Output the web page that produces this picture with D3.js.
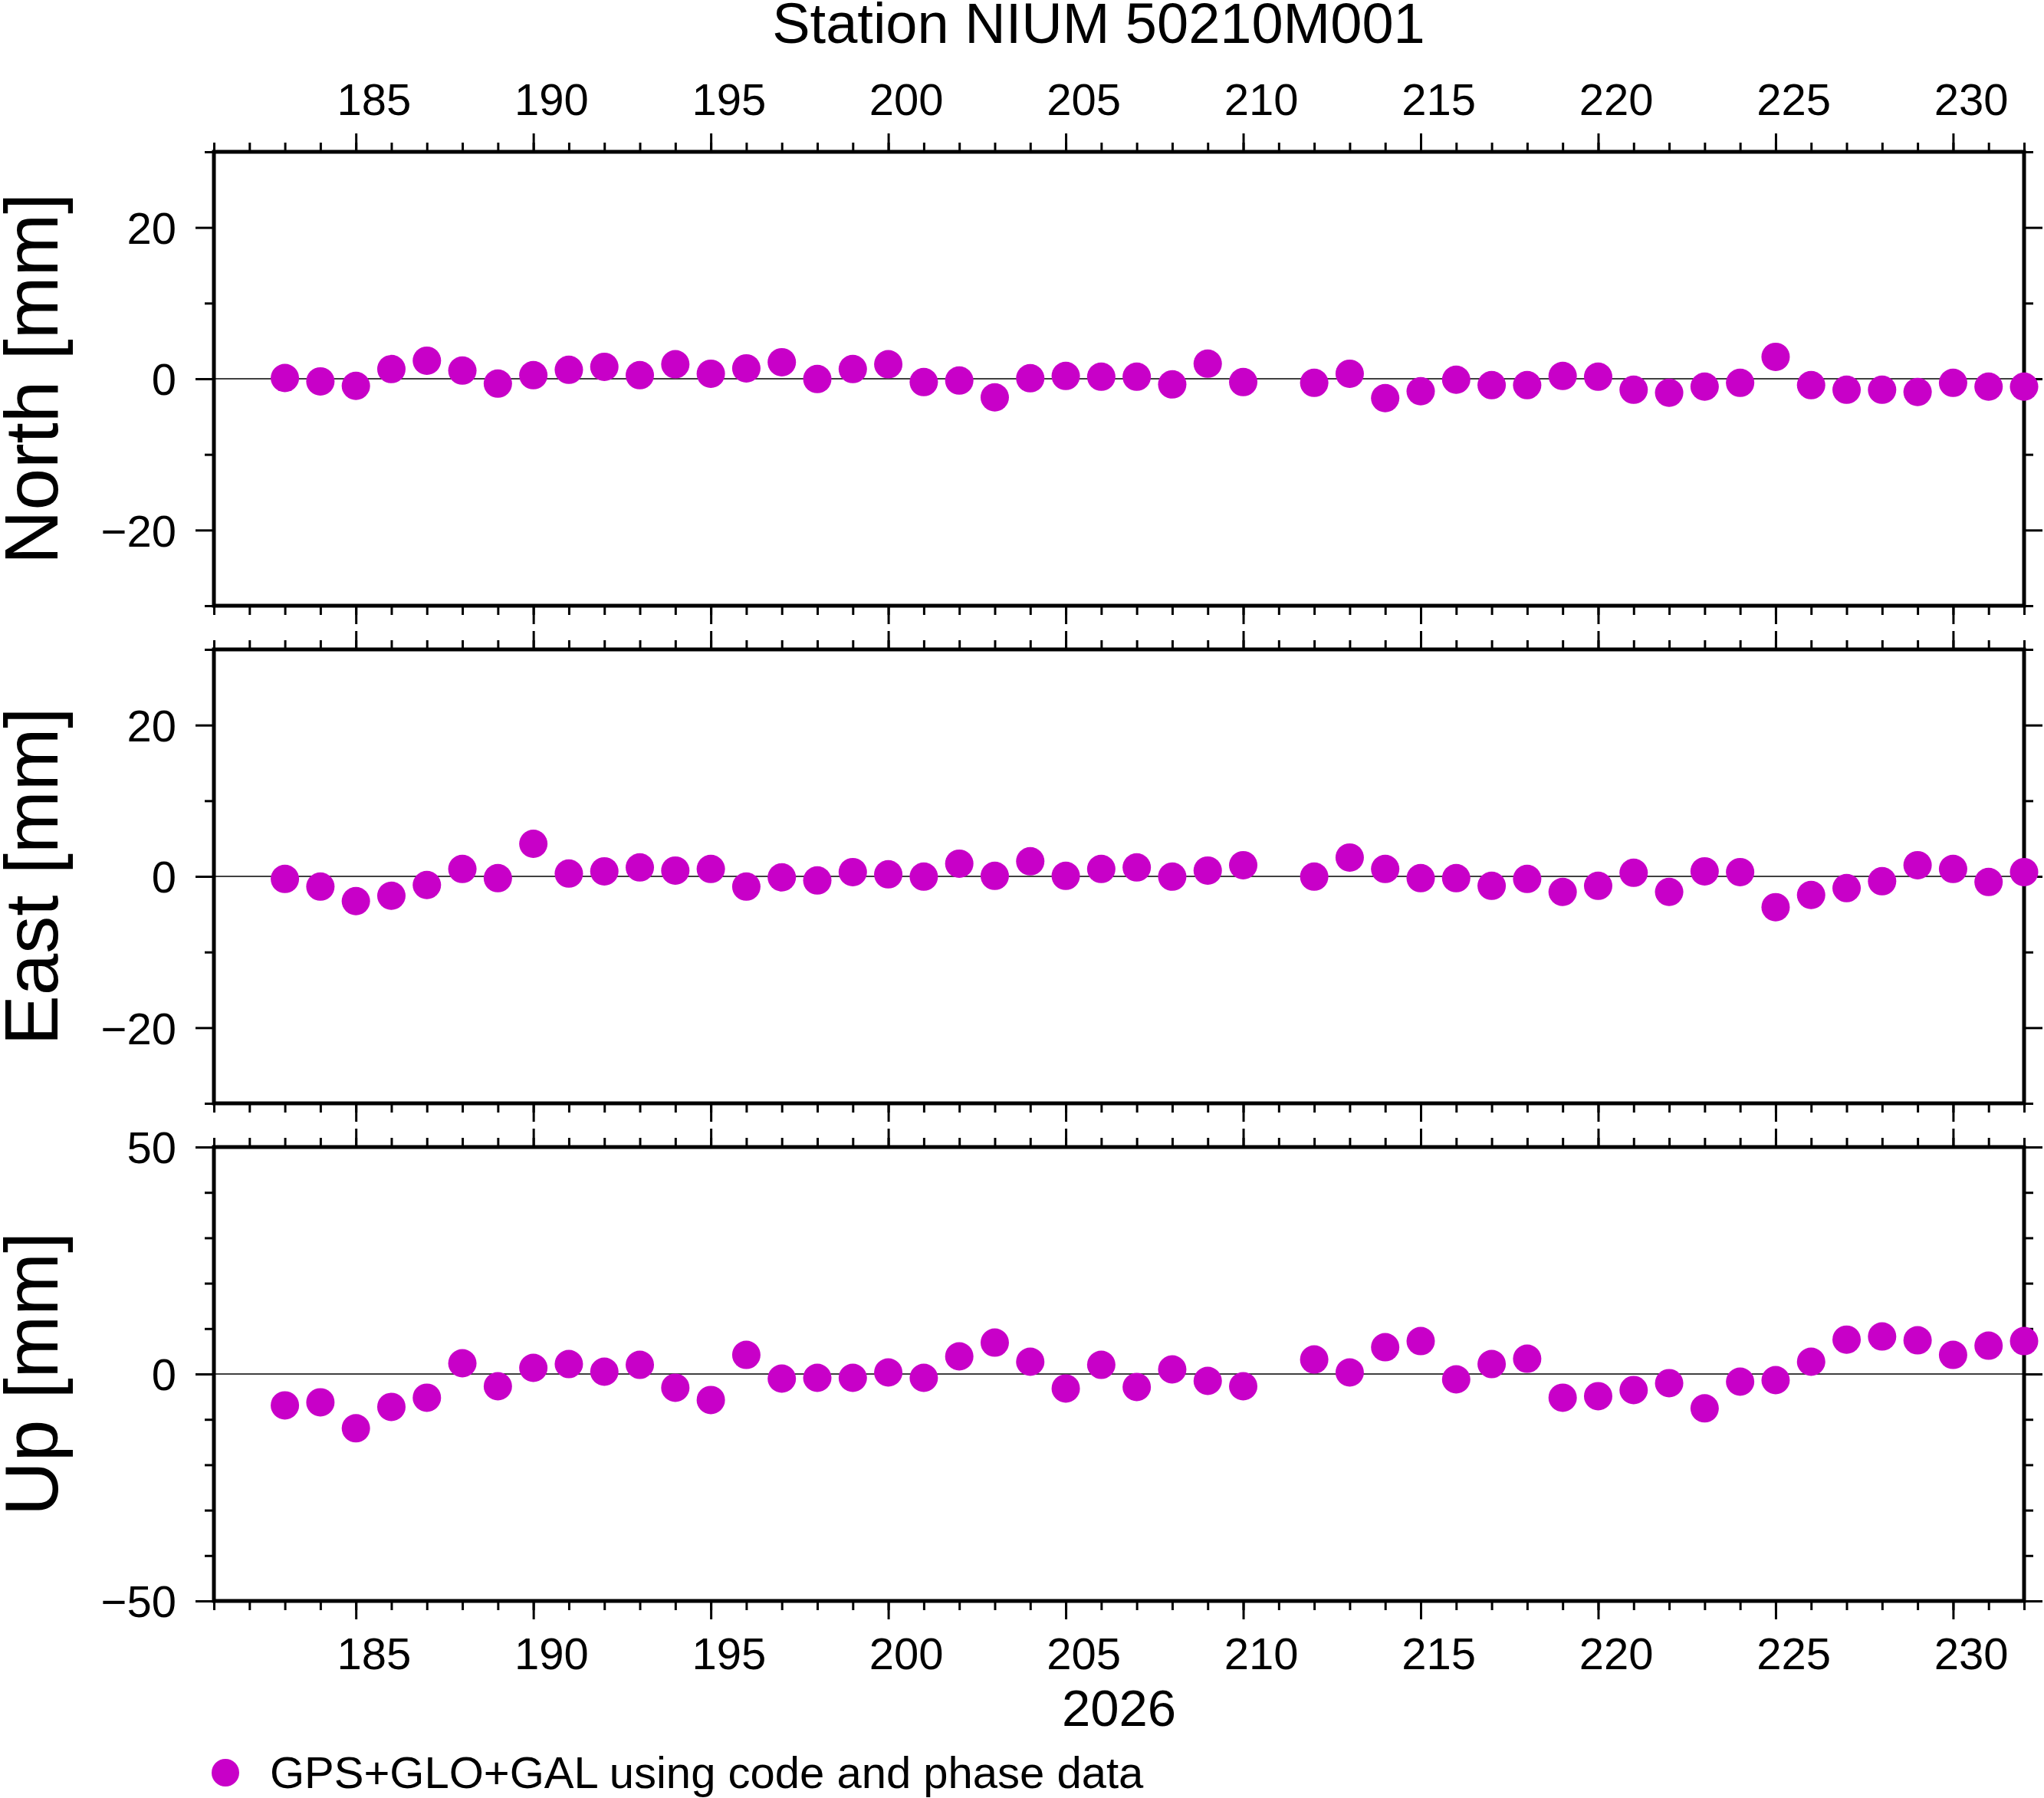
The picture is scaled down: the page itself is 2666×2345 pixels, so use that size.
<!DOCTYPE html>
<html>
<head>
<meta charset="utf-8">
<script src="https://cdn.jsdelivr.net/npm/d3@7"></script>
<style>
  body { margin: 0; background: #fff; }
  svg { display: block; }
</style>
</head>
<body>
<div id="chart"></div>
<script>
// dias del año (falta el 211)
var days = [183, 184, 185, 186, 187, 188, 189, 190, 191, 192, 193, 194, 195, 196, 197, 198, 199, 200,
            201, 202, 203, 204, 205, 206, 207, 208, 209, 210, 212, 213, 214, 215, 216, 217, 218, 219,
            220, 221, 222, 223, 224, 225, 226, 227, 228, 229, 230, 231, 232];

var northMm = [0.1, -0.35, -0.94, 1.28, 2.39, 1.08, -0.64, 0.47, 1.18, 1.58, 0.47, 1.92, 0.67, 1.38, 2.19, -0.03, 1.28, 1.92,
               -0.44, -0.24, -2.46, 0.07, 0.37, 0.27, 0.27, -0.74, 1.99, -0.44, -0.54, 0.67, -2.56, -1.65, -0.13, -0.84, -0.84, 0.37,
               0.27, -1.45, -1.85, -1.04, -0.54, 2.90, -0.84, -1.45, -1.45, -1.75, -0.54, -1.04, -1.04];

var eastMm = [-0.34, -1.35, -3.27, -2.56, -1.14, 0.98, -0.24, 4.31, 0.37, 0.67, 1.18, 0.77, 0.98, -1.35, -0.13, -0.54, 0.57, 0.27,
              -0.03, 1.68, 0.07, 1.99, 0.07, 0.98, 1.18, -0.03, 0.77, 1.48, -0.03, 2.49, 0.98, -0.24, -0.24, -1.25, -0.34, -2.05,
              -1.25, 0.47, -2.05, 0.67, 0.57, -4.07, -2.46, -1.55, -0.64, 1.48, 0.98, -0.74, 0.57];

var upMm = [-6.91, -6.24, -11.97, -7.25, -5.22, 2.36, -2.70, 1.35, 2.19, 0.51, 2.02, -3.03, -5.73, 4.21, -1.01, -0.84, -0.84, 0.34,
            -0.84, 3.88, 6.91, 2.70, -3.20, 2.02, -2.87, 1.01, -1.52, -2.70, 3.20, 0.34, 5.90, 7.25, -1.18, 2.19, 3.37, -5.22,
            -4.89, -3.54, -2.02, -7.58, -1.69, -1.35, 2.70, 7.58, 8.26, 7.42, 4.21, 6.24, 7.25];

// ticks eje x
var dayLabels = [185, 190, 195, 200, 205, 210, 215, 220, 225, 230];
var dayTicks = [181, 182, 183, 184, 185, 186, 187, 188, 189, 190, 191, 192, 193, 194, 195, 196, 197, 198, 199, 200,
                201, 202, 203, 204, 205, 206, 207, 208, 209, 210, 211, 212, 213, 214, 215, 216, 217, 218, 219, 220,
                221, 222, 223, 224, 225, 226, 227, 228, 229, 230, 231, 232];

// ticks eje y
var neLabels = [-20, 0, 20];
var neMinor = [-30, -10, 10, 30];
var upLabels = [-50, 0, 50];
var upMinor = [-40, -30, -20, -10, 10, 20, 30, 40];

var titulo = "Station NIUM 50210M001";
var anio = "2026";
var leyenda = "GPS+GLO+GAL using code and phase data";
var colorPunto = "#c800c8";
var fuente = "'Liberation Sans', Arial, Helvetica, sans-serif";

var width = 2666, height = 2345;
var frame = { left: 279, right: 2640 };
var panelTops = [198, 847, 1496];
var panelH = 592;

var paneles = [
    { nombre: "North [mm]", valores: northMm, dominio: [-30, 30], mayores: neLabels, menores: neMinor },
    { nombre: "East [mm]",  valores: eastMm,  dominio: [-30, 30], mayores: neLabels, menores: neMinor },
    { nombre: "Up [mm]",    valores: upMm,    dominio: [-50, 50], mayores: upLabels, menores: upMinor }
];

var svg = d3.select("#chart").append("svg")
    .attr("width", width)
    .attr("height", height)
    .style("font-family", fuente);

var x = d3.scaleLinear().domain([181, 232]).range([frame.left, frame.right]);
var halfDay = (x(182) - x(181)) / 2;

function fmt(d) { return d < 0 ? "\u2212" + Math.abs(d) : String(d); }

function estiloEje(g) {
    g.select(".domain").remove();
    g.selectAll("line").attr("stroke", "#000").attr("stroke-width", 3);
    g.selectAll("text").attr("fill", "#000");
    g.attr("font-size", 58).attr("font-family", fuente);
}

paneles.forEach(function (p, i) {
    var g = svg.append("g").attr("transform", "translate(0," + panelTops[i] + ")");
    var y = d3.scaleLinear().domain(p.dominio).range([panelH, 0]);

    // linea cero
    g.append("line")
        .attr("x1", frame.left).attr("x2", frame.right)
        .attr("y1", y(0)).attr("y2", y(0))
        .attr("stroke", "#000").attr("stroke-width", 1.3);

    // eje izquierdo
    g.append("g").attr("transform", "translate(" + frame.left + ",0)")
        .call(d3.axisLeft(y).tickValues(p.mayores).tickSize(24).tickPadding(25).tickFormat(fmt))
        .call(estiloEje)
        .selectAll("text").attr("dy", "0.36em");
    g.append("g").attr("transform", "translate(" + frame.left + ",0)")
        .call(d3.axisLeft(y).tickValues(p.menores).tickSize(12).tickFormat(""))
        .call(estiloEje);

    // eje derecho
    g.append("g").attr("transform", "translate(" + frame.right + ",0)")
        .call(d3.axisRight(y).tickValues(p.mayores).tickSize(24).tickFormat(""))
        .call(estiloEje);
    g.append("g").attr("transform", "translate(" + frame.right + ",0)")
        .call(d3.axisRight(y).tickValues(p.menores).tickSize(12).tickFormat(""))
        .call(estiloEje);

    // eje superior
    g.append("g")
        .call(d3.axisTop(x).tickValues(dayLabels).tickSize(24).tickPadding(24).tickFormat(i === 0 ? d3.format("d") : ""))
        .call(estiloEje)
        .selectAll("text").attr("dx", halfDay);
    g.append("g")
        .call(d3.axisTop(x).tickValues(dayTicks).tickSize(12).tickFormat(""))
        .call(estiloEje);

    // eje inferior
    g.append("g").attr("transform", "translate(0," + panelH + ")")
        .call(d3.axisBottom(x).tickValues(dayLabels).tickSize(24).tickPadding(24).tickFormat(i === 2 ? d3.format("d") : ""))
        .call(estiloEje)
        .selectAll("text").attr("dx", halfDay);
    g.append("g").attr("transform", "translate(0," + panelH + ")")
        .call(d3.axisBottom(x).tickValues(dayTicks).tickSize(12).tickFormat(""))
        .call(estiloEje);

    // marco
    g.append("rect")
        .attr("x", frame.left).attr("y", 0)
        .attr("width", frame.right - frame.left).attr("height", panelH)
        .attr("fill", "none").attr("stroke", "#000").attr("stroke-width", 5);

    // puntos
    g.selectAll(".punto")
        .data(p.valores)
        .enter().append("circle")
        .attr("class", "punto")
        .attr("cx", function (d, k) { return x(days[k]); })
        .attr("cy", function (d) { return y(d); })
        .attr("r", 18.5)
        .attr("fill", colorPunto);

    // etiqueta y
    svg.append("text")
        .attr("transform", "translate(75," + (panelTops[i] + panelH / 2) + ") rotate(-90)")
        .attr("text-anchor", "middle")
        .attr("font-size", 98)
        .text(p.nombre);
});

svg.append("text")
    .attr("x", 1433).attr("y", 56)
    .attr("text-anchor", "middle")
    .attr("font-size", 74)
    .text(titulo);

svg.append("text")
    .attr("x", (frame.left + frame.right) / 2).attr("y", 2251)
    .attr("text-anchor", "middle")
    .attr("font-size", 67)
    .text(anio);

// leyenda
svg.append("circle")
    .attr("cx", 294).attr("cy", 2312).attr("r", 18)
    .attr("fill", colorPunto);
svg.append("text")
    .attr("x", 352).attr("y", 2332)
    .attr("font-size", 58)
    .text(leyenda);
</script>
</body>
</html>
